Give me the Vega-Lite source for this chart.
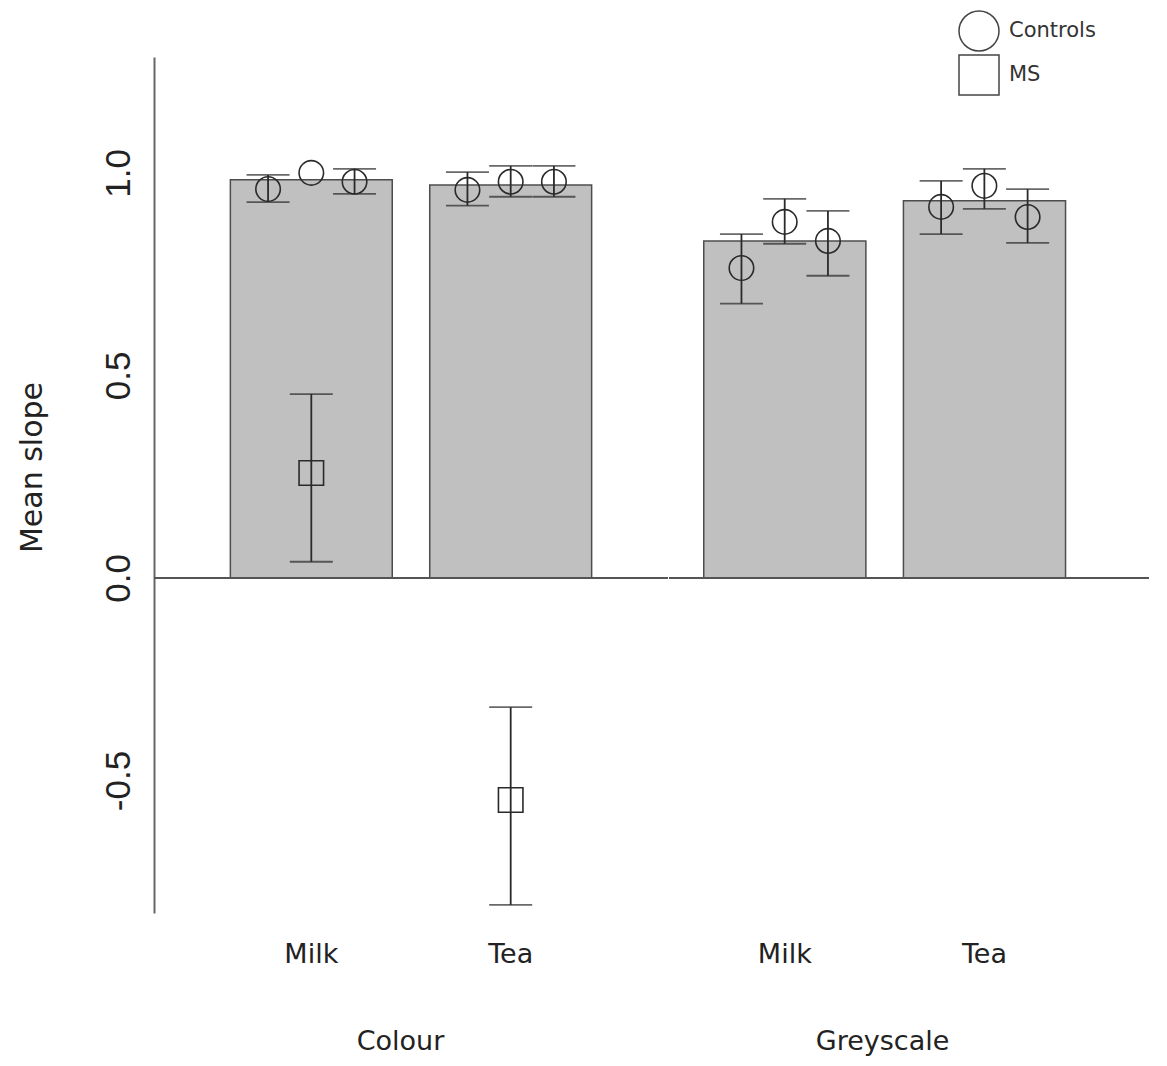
{
  "$schema": "https://vega.github.io/schema/vega-lite/v6.json",
  "padding": {"left": 17, "top": 10, "right": 5, "bottom": 5},
  "background": "white",
  "spacing": -2,
  "datasets": {
    "bars": [
      {"grp": "Colour", "cond": "Milk", "mean": 0.983},
      {"grp": "Colour", "cond": "Tea", "mean": 0.970},
      {"grp": "Greyscale", "cond": "Milk", "mean": 0.832},
      {"grp": "Greyscale", "cond": "Tea", "mean": 0.931}
    ],
    "pts": [
      {"grp": "Colour", "cond": "Milk", "sub": "a", "type": "Controls", "v": 0.960, "lo": 0.928, "hi": 0.995},
      {"grp": "Colour", "cond": "Milk", "sub": "b", "type": "Controls", "v": 1.000, "lo": null, "hi": null},
      {"grp": "Colour", "cond": "Milk", "sub": "c", "type": "Controls", "v": 0.978, "lo": 0.948, "hi": 1.010},
      {"grp": "Colour", "cond": "Milk", "sub": "b", "type": "MS", "v": 0.259, "lo": 0.040, "hi": 0.454},
      {"grp": "Colour", "cond": "Tea", "sub": "a", "type": "Controls", "v": 0.958, "lo": 0.919, "hi": 1.002},
      {"grp": "Colour", "cond": "Tea", "sub": "b", "type": "Controls", "v": 0.978, "lo": 0.941, "hi": 1.017},
      {"grp": "Colour", "cond": "Tea", "sub": "c", "type": "Controls", "v": 0.978, "lo": 0.941, "hi": 1.017},
      {"grp": "Colour", "cond": "Tea", "sub": "b", "type": "MS", "v": -0.548, "lo": -0.807, "hi": -0.319},
      {"grp": "Greyscale", "cond": "Milk", "sub": "a", "type": "Controls", "v": 0.765, "lo": 0.677, "hi": 0.849},
      {"grp": "Greyscale", "cond": "Milk", "sub": "b", "type": "Controls", "v": 0.879, "lo": 0.825, "hi": 0.936},
      {"grp": "Greyscale", "cond": "Milk", "sub": "c", "type": "Controls", "v": 0.832, "lo": 0.746, "hi": 0.906},
      {"grp": "Greyscale", "cond": "Tea", "sub": "a", "type": "Controls", "v": 0.916, "lo": 0.849, "hi": 0.980},
      {"grp": "Greyscale", "cond": "Tea", "sub": "b", "type": "Controls", "v": 0.968, "lo": 0.911, "hi": 1.010},
      {"grp": "Greyscale", "cond": "Tea", "sub": "c", "type": "Controls", "v": 0.891, "lo": 0.827, "hi": 0.960}
    ]
  },
  "config": {
    "view": {"stroke": null},
    "font": "DejaVu Sans",
    "axisX": {
      "domain": false, "ticks": false, "grid": false,
      "labelFont": "DejaVu Sans", "labelFontSize": 27, "labelColor": "#222", "labelAngle": 0, "labelPadding": 28,
      "titleFont": "DejaVu Sans", "titleFontSize": 27, "titleFontWeight": "normal", "titleColor": "#222", "titlePadding": 61
    },
    "axisY": {
      "domain": true, "domainColor": "#666", "domainWidth": 2, "ticks": false, "grid": false,
      "labelFont": "Liberation Sans", "labelFontSize": 35, "labelColor": "#222", "labelAngle": -90, "labelPadding": 18,
      "titleFont": "DejaVu Sans", "titleFontSize": 30, "titleFontWeight": "normal", "titleColor": "#222", "titlePadding": 54
    },
    "legend": {
      "orient": "none", "legendX": 804, "legendY": -47, "title": null, "padding": 0,
      "symbolSize": 1600, "symbolStrokeWidth": 1.5, "symbolStrokeColor": "#444", "symbolFillColor": "transparent",
      "labelFont": "DejaVu Sans", "labelFontSize": 21, "labelColor": "#333", "labelOffset": 9, "rowPadding": -2
    }
  },
  "resolve": {"scale": {"shape": "shared"}, "legend": {"shape": "shared"}},
  "hconcat": [
    {
      "width": 514,
      "height": 856,
      "layer": [
        {
          "data": {"name": "bars"},
          "transform": [{"filter": "datum.grp === 'Colour'"}],
          "mark": {"type": "bar", "fill": "#c0c0c0", "stroke": "#4d4d4d", "strokeWidth": 1.5},
          "encoding": {
            "x": {"field": "cond", "type": "nominal", "sort": ["Milk", "Tea"], "scale": {"paddingInner": 0.188, "paddingOuter": 0.383},
                  "axis": {"title": "Colour", "titleX": 246, "titleAlign": "center"}},
            "y": {"field": "mean", "type": "quantitative", "scale": {"domain": [-0.827, 1.286], "nice": false, "zero": false},
                  "axis": {"title": "Mean slope", "values": [-0.5, 0, 0.5, 1], "format": ".1f", "labelExpr": "replace(datum.label, '−', '-')",
                           "titleX": -122, "titleY": 410, "titleBaseline": "middle", "titleAlign": "center", "titleAngle": -90}},
            "y2": {"datum": 0}
          }
        },
        {
          "data": {"name": "bars"},
          "mark": {"type": "rule", "color": "#555", "strokeWidth": 1.5},
          "encoding": {"y": {"datum": 0, "type": "quantitative"}}
        },
        {
          "data": {"name": "pts"},
          "transform": [{"filter": "datum.grp === 'Colour'"}],
          "mark": {"type": "rule", "color": "#2a2a2a", "strokeWidth": 1.8},
          "encoding": {
            "x": {"field": "cond", "type": "nominal", "sort": ["Milk", "Tea"]},
            "xOffset": {"field": "sub", "type": "nominal", "scale": {"domain": ["a", "b", "c"], "paddingInner": 0, "paddingOuter": 0.372}},
            "y": {"field": "lo", "type": "quantitative"},
            "y2": {"field": "hi"}
          }
        },
        {
          "data": {"name": "pts"},
          "transform": [{"filter": "datum.grp === 'Colour'"}],
          "mark": {"type": "tick", "color": "#2a2a2a", "size": 43, "thickness": 1.8},
          "encoding": {
            "x": {"field": "cond", "type": "nominal", "sort": ["Milk", "Tea"]},
            "xOffset": {"field": "sub", "type": "nominal"},
            "y": {"field": "lo", "type": "quantitative"}
          }
        },
        {
          "data": {"name": "pts"},
          "transform": [{"filter": "datum.grp === 'Colour'"}],
          "mark": {"type": "tick", "color": "#2a2a2a", "size": 43, "thickness": 1.8},
          "encoding": {
            "x": {"field": "cond", "type": "nominal", "sort": ["Milk", "Tea"]},
            "xOffset": {"field": "sub", "type": "nominal"},
            "y": {"field": "hi", "type": "quantitative"}
          }
        },
        {
          "data": {"name": "pts"},
          "transform": [{"filter": "datum.grp === 'Colour'"}],
          "mark": {"type": "point", "filled": false, "color": "#2a2a2a", "size": 600, "strokeWidth": 1.6, "opacity": 1},
          "encoding": {
            "x": {"field": "cond", "type": "nominal", "sort": ["Milk", "Tea"]},
            "xOffset": {"field": "sub", "type": "nominal"},
            "y": {"field": "v", "type": "quantitative"},
            "shape": {"field": "type", "type": "nominal", "scale": {"domain": ["Controls", "MS"], "range": ["circle", "square"]}}
          }
        }
      ]
    },
    {
      "width": 480,
      "height": 856,
      "layer": [
        {
          "data": {"name": "bars"},
          "transform": [{"filter": "datum.grp === 'Greyscale'"}],
          "mark": {"type": "bar", "fill": "#c0c0c0", "stroke": "#4d4d4d", "strokeWidth": 1.5},
          "encoding": {
            "x": {"field": "cond", "type": "nominal", "sort": ["Milk", "Tea"], "scale": {"paddingInner": 0.188, "paddingOuter": 0.296, "align": 0.294},
                  "axis": {"title": "Greyscale", "titleX": 213, "titleAlign": "center"}},
            "y": {"field": "mean", "type": "quantitative", "scale": {"domain": [-0.827, 1.286], "nice": false, "zero": false}, "axis": null},
            "y2": {"datum": 0}
          }
        },
        {
          "data": {"name": "bars"},
          "mark": {"type": "rule", "color": "#555", "strokeWidth": 1.5},
          "encoding": {"y": {"datum": 0, "type": "quantitative"}}
        },
        {
          "data": {"name": "pts"},
          "transform": [{"filter": "datum.grp === 'Greyscale'"}],
          "mark": {"type": "rule", "color": "#2a2a2a", "strokeWidth": 1.8},
          "encoding": {
            "x": {"field": "cond", "type": "nominal", "sort": ["Milk", "Tea"]},
            "xOffset": {"field": "sub", "type": "nominal", "scale": {"domain": ["a", "b", "c"], "paddingInner": 0, "paddingOuter": 0.372}},
            "y": {"field": "lo", "type": "quantitative"},
            "y2": {"field": "hi"}
          }
        },
        {
          "data": {"name": "pts"},
          "transform": [{"filter": "datum.grp === 'Greyscale'"}],
          "mark": {"type": "tick", "color": "#2a2a2a", "size": 43, "thickness": 1.8},
          "encoding": {
            "x": {"field": "cond", "type": "nominal", "sort": ["Milk", "Tea"]},
            "xOffset": {"field": "sub", "type": "nominal"},
            "y": {"field": "lo", "type": "quantitative"}
          }
        },
        {
          "data": {"name": "pts"},
          "transform": [{"filter": "datum.grp === 'Greyscale'"}],
          "mark": {"type": "tick", "color": "#2a2a2a", "size": 43, "thickness": 1.8},
          "encoding": {
            "x": {"field": "cond", "type": "nominal", "sort": ["Milk", "Tea"]},
            "xOffset": {"field": "sub", "type": "nominal"},
            "y": {"field": "hi", "type": "quantitative"}
          }
        },
        {
          "data": {"name": "pts"},
          "transform": [{"filter": "datum.grp === 'Greyscale'"}],
          "mark": {"type": "point", "filled": false, "color": "#2a2a2a", "size": 600, "strokeWidth": 1.6, "opacity": 1},
          "encoding": {
            "x": {"field": "cond", "type": "nominal", "sort": ["Milk", "Tea"]},
            "xOffset": {"field": "sub", "type": "nominal"},
            "y": {"field": "v", "type": "quantitative"},
            "shape": {"field": "type", "type": "nominal", "scale": {"domain": ["Controls", "MS"], "range": ["circle", "square"]}}
          }
        }
      ]
    }
  ]
}
